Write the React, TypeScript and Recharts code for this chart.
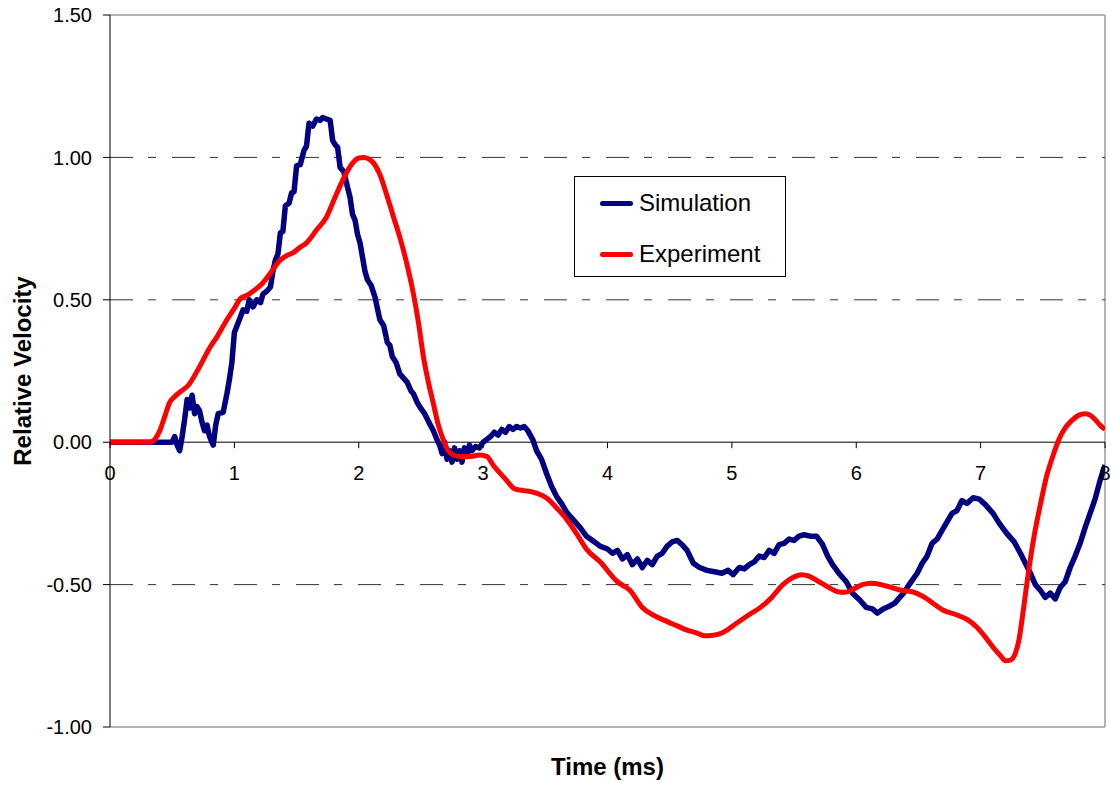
import React from 'react';
import { LineChart, Line, XAxis, YAxis, ReferenceLine, Legend } from 'recharts';

// ---- data ----
const seriesNames = ['Simulation', 'Experiment'];

const simTime = [
  0, 0.5, 0.52, 0.54, 0.56, 0.58, 0.6, 0.62, 0.64, 0.66, 0.68, 0.7, 0.72, 0.74, 0.76, 0.78, 0.8, 0.83,
  0.85, 0.87, 0.91, 0.94, 0.96, 0.98, 1.0, 1.04, 1.07, 1.1, 1.12, 1.15, 1.18, 1.21, 1.23, 1.26, 1.29,
  1.31, 1.33, 1.35, 1.37, 1.39, 1.41, 1.44, 1.46, 1.48, 1.5, 1.53, 1.56, 1.58, 1.6, 1.63, 1.66, 1.69,
  1.71, 1.74, 1.77, 1.79, 1.81, 1.83, 1.85, 1.88, 1.91, 1.93, 1.95, 1.97, 1.99, 2.01, 2.03, 2.05, 2.07,
  2.1, 2.13, 2.15, 2.17, 2.2, 2.23, 2.25, 2.27, 2.3, 2.33, 2.36, 2.39, 2.42, 2.44, 2.47, 2.49, 2.53,
  2.57, 2.6, 2.63, 2.65, 2.67, 2.69, 2.71, 2.73, 2.75, 2.77, 2.79, 2.81, 2.83, 2.85, 2.87, 2.89, 2.91,
  2.94, 2.97, 3.0, 3.03, 3.06, 3.09, 3.12, 3.15, 3.18, 3.21, 3.24, 3.27, 3.3, 3.33, 3.36, 3.4, 3.43,
  3.47, 3.51, 3.55, 3.59, 3.63, 3.67, 3.72, 3.78, 3.83, 3.88, 3.94, 4.0, 4.04, 4.08, 4.12, 4.16, 4.2,
  4.24, 4.28, 4.32, 4.36, 4.4, 4.44, 4.48, 4.52, 4.56, 4.6, 4.64, 4.69, 4.74, 4.8, 4.86, 4.92, 4.97,
  5.01, 5.06, 5.1, 5.14, 5.18, 5.22, 5.26, 5.3, 5.34, 5.38, 5.42, 5.46, 5.5, 5.54, 5.58, 5.63, 5.68,
  5.73, 5.77, 5.81, 5.86, 5.92, 5.97, 6.03, 6.08, 6.13, 6.17, 6.22, 6.27, 6.31, 6.35, 6.38, 6.41,
  6.45, 6.49, 6.53, 6.57, 6.61, 6.65, 6.69, 6.73, 6.77, 6.81, 6.85, 6.89, 6.94, 6.99, 7.04, 7.1, 7.15,
  7.21, 7.27, 7.32, 7.36, 7.4, 7.44, 7.48, 7.52, 7.56, 7.6, 7.64, 7.68, 7.72, 7.76, 7.8, 7.84, 7.88,
  7.92, 7.96, 8.0,
];
const simVel = [
  0, 0, 0.02, -0.01, -0.03, 0.02, 0.08, 0.15, 0.12, 0.165, 0.1, 0.125, 0.11, 0.07, 0.04, 0.06, 0.02, -0.01,
  0.06, 0.1, 0.105, 0.17, 0.22, 0.28, 0.385, 0.43, 0.465, 0.46, 0.5, 0.475, 0.5, 0.49, 0.52, 0.53, 0.545,
  0.6, 0.64, 0.66, 0.735, 0.74, 0.83, 0.84, 0.875, 0.88, 0.97, 0.975, 1.025, 1.04, 1.12, 1.11, 1.135, 1.13,
  1.14, 1.135, 1.13, 1.06, 1.045, 1.035, 0.965, 0.95, 0.895, 0.86, 0.8, 0.78, 0.73, 0.7, 0.65, 0.6, 0.57,
  0.55, 0.51, 0.47, 0.43, 0.41, 0.35, 0.34, 0.3, 0.28, 0.24, 0.225, 0.21, 0.18, 0.17, 0.14, 0.125, 0.1,
  0.065, 0.04, 0.008, -0.01, -0.04, 0.0, -0.06, -0.03, -0.07, -0.02, -0.06, -0.03, -0.07, -0.02, -0.05, -0.01,
  -0.03, -0.015, -0.02, 0.0, 0.01, 0.02, 0.035, 0.025, 0.045, 0.035, 0.055, 0.045, 0.055, 0.05, 0.055,
  0.04, 0.008, -0.03, -0.06, -0.11, -0.155, -0.19, -0.215, -0.245, -0.27, -0.3, -0.33, -0.345, -0.365,
  -0.375, -0.39, -0.38, -0.41, -0.395, -0.43, -0.41, -0.44, -0.415, -0.43, -0.4, -0.39, -0.365, -0.35,
  -0.345, -0.36, -0.38, -0.425, -0.44, -0.45, -0.455, -0.46, -0.45, -0.465, -0.44, -0.445, -0.43, -0.42,
  -0.4, -0.405, -0.38, -0.39, -0.36, -0.355, -0.34, -0.345, -0.33, -0.325, -0.33, -0.33, -0.36, -0.4,
  -0.43, -0.46, -0.49, -0.53, -0.555, -0.58, -0.585, -0.6, -0.585, -0.575, -0.565, -0.545, -0.53, -0.51,
  -0.485, -0.46, -0.425, -0.4, -0.355, -0.34, -0.31, -0.28, -0.25, -0.24, -0.205, -0.215, -0.195, -0.2,
  -0.22, -0.25, -0.285, -0.32, -0.35, -0.39, -0.425, -0.46, -0.5, -0.52, -0.545, -0.53, -0.55, -0.51,
  -0.49, -0.44, -0.4, -0.355, -0.3, -0.25, -0.2, -0.135, -0.08, 0.03, 0.055,
];

const expTime = [
  0, 0.32, 0.36, 0.4, 0.44, 0.48, 0.52, 0.56, 0.63, 0.72, 0.8, 0.86, 0.94, 1.0, 1.05, 1.1, 1.15, 1.23,
  1.3, 1.37, 1.42, 1.47, 1.53, 1.58, 1.66, 1.74, 1.8, 1.85, 1.9, 1.95, 2.0, 2.04, 2.08, 2.12, 2.17,
  2.22, 2.28, 2.33, 2.39, 2.44, 2.48, 2.52, 2.56, 2.6, 2.64, 2.68, 2.72, 2.76, 2.82, 2.9, 2.97, 3.03,
  3.08, 3.17, 3.26, 3.33, 3.4, 3.51, 3.6, 3.67, 3.75, 3.83, 3.94, 4.08, 4.18, 4.28, 4.38, 4.48, 4.56,
  4.64, 4.72, 4.78, 4.85, 4.92, 5.04, 5.14, 5.23, 5.32, 5.41, 5.49, 5.56, 5.62, 5.7, 5.78, 5.85, 5.91,
  5.98, 6.05, 6.12, 6.2, 6.28, 6.36, 6.45, 6.55, 6.63, 6.7, 6.8, 6.9, 6.97, 7.03, 7.1, 7.16, 7.2, 7.24,
  7.28, 7.31, 7.34, 7.38, 7.43, 7.48, 7.53, 7.58, 7.63, 7.68, 7.73, 7.79, 7.84, 7.88, 7.92, 7.96, 8.0,
];
const expVel = [
  0, 0, 0.01, 0.04, 0.09, 0.14, 0.16, 0.175, 0.2, 0.265, 0.33, 0.37, 0.43, 0.47, 0.505, 0.515, 0.53, 0.56,
  0.6, 0.64, 0.655, 0.665, 0.685, 0.7, 0.745, 0.79, 0.85, 0.9, 0.945, 0.98, 0.998, 1.0, 0.995, 0.98, 0.94,
  0.875, 0.79, 0.72, 0.62, 0.52, 0.42, 0.3, 0.21, 0.135, 0.06, 0.008, -0.03, -0.045, -0.05, -0.05, -0.045, -0.05,
  -0.08, -0.125, -0.165, -0.17, -0.175, -0.196, -0.235, -0.27, -0.32, -0.375, -0.42, -0.49, -0.52, -0.58, -0.61, -0.63, -0.645,
  -0.66, -0.67, -0.68, -0.678, -0.67, -0.635, -0.605, -0.58, -0.545, -0.5, -0.475, -0.465, -0.47, -0.49, -0.51, -0.525, -0.527,
  -0.515, -0.5, -0.495, -0.5, -0.51, -0.52, -0.525, -0.545, -0.57, -0.59, -0.605, -0.625, -0.65, -0.68, -0.72, -0.75, -0.767, -0.765,
  -0.74, -0.69, -0.6, -0.47, -0.33, -0.22, -0.12, -0.05, 0.01, 0.05, 0.075, 0.095, 0.1, 0.095, 0.08, 0.06, 0.045,
];

const xTicks = [0, 1, 2, 3, 4, 5, 6, 7, 8];
const yTicks = [-1, -0.5, 0, 0.5, 1, 1.5];
const gridLevels = [1, 0.5, -0.5];

const simData = simTime.map((t, i) => ({ t, v: simVel[i] }));
const expData = expTime.map((t, i) => ({ t, v: expVel[i] }));

// ---- layout ----
const W = 1111;
const H = 786;
const MARGIN = { top: 15, right: 6, bottom: 29, left: 50 };
const Y_AXIS_W = 60;
const X_AXIS_H = 30;
const Y_MIN = -1;
const Y_MAX = 1.5;
const PLOT_H = H - MARGIN.top - MARGIN.bottom - X_AXIS_H;
const ZERO_SHIFT = (PLOT_H * (0 - Y_MIN)) / (Y_MAX - Y_MIN);
const FONT = '"Liberation Sans", Arial, Helvetica, sans-serif';

const XTick = (props: any) => {
  const { x, y, payload } = props;
  const y0 = y - ZERO_SHIFT;
  return (
    <g>
      <line x1={x} x2={x} y1={y0} y2={y0 + 6} stroke="#000" strokeWidth={1} />
      <text x={x} y={y0 + 38} textAnchor="middle" fontSize={20} fontFamily={FONT} fill="#000">
        {payload.value}
      </text>
    </g>
  );
};

const LegendBox = (props: any) => {
  const items = [...(props.payload || [])].sort(
    (a: any, b: any) => seriesNames.indexOf(a.value) - seriesNames.indexOf(b.value)
  );
  return (
    <div
      style={{
        width: 212,
        height: 101,
        boxSizing: 'border-box',
        border: '1px solid #000',
        background: '#fff',
        position: 'relative',
        fontFamily: FONT,
        fontSize: 24,
        color: '#000',
      }}
    >
      {items.map((p: any, i: number) => (
        <div
          key={p.value}
          style={{
            position: 'absolute',
            left: 25,
            top: 26 + i * 51 - 14,
            height: 28,
            display: 'flex',
            alignItems: 'center',
            whiteSpace: 'nowrap',
          }}
        >
          <span
            style={{
              display: 'inline-block',
              width: 33,
              height: 5,
              borderRadius: 2.5,
              background: p.color,
              marginRight: 6,
            }}
          />
          <span>{p.value}</span>
        </div>
      ))}
    </div>
  );
};

export default function App() {
  return (
    <div style={{ position: 'absolute', left: 0, top: 0, background: '#fff' }}>
      <LineChart width={W} height={H} margin={MARGIN}>
        <XAxis
          type="number"
          dataKey="t"
          domain={[0, 8]}
          ticks={xTicks}
          interval={0}
          allowDataOverflow
          height={X_AXIS_H}
          axisLine={false}
          tickLine={false}
          tickSize={0}
          tickMargin={0}
          tick={<XTick />}
          label={{
            content: (lp: any) => {
              const vb = lp.viewBox || {};
              return (
                <text
                  x={vb.x + vb.width / 2}
                  y={vb.y + 48}
                  textAnchor="middle"
                  fontSize={24}
                  fontWeight="bold"
                  fontFamily={FONT}
                  fill="#000"
                >
                  Time (ms)
                </text>
              );
            },
          }}
        />
        <YAxis
          type="number"
          domain={[Y_MIN, Y_MAX]}
          ticks={yTicks}
          interval={0}
          width={Y_AXIS_W}
          allowDataOverflow
          tickFormatter={(v: number) => v.toFixed(2)}
          axisLine={{ stroke: '#000', strokeWidth: 1 }}
          tickLine={{ stroke: '#000', strokeWidth: 1 }}
          tickSize={7}
          tickMargin={11}
          tick={{ fontSize: 20, fontFamily: FONT, fill: '#000' }}
          label={{
            content: (lp: any) => {
              const vb = lp.viewBox || {};
              const cx = vb.x - 28;
              const cy = vb.y + vb.height / 2;
              return (
                <text
                  x={cx}
                  y={cy}
                  transform={`rotate(-90 ${cx} ${cy})`}
                  textAnchor="middle"
                  dominantBaseline="central"
                  fontSize={24}
                  fontWeight="bold"
                  fontFamily={FONT}
                  fill="#000"
                >
                  Relative Velocity
                </text>
              );
            },
          }}
        />
        <ReferenceLine y={Y_MAX} stroke="#9a9a9a" strokeWidth={1.5} />
        <ReferenceLine y={Y_MIN} stroke="#9a9a9a" strokeWidth={1.5} />
        <ReferenceLine x={8} stroke="#9a9a9a" strokeWidth={1.5} />
        {gridLevels.map((g) => (
          <ReferenceLine key={g} y={g} stroke="#333" strokeWidth={1} strokeDasharray="23 15 8 16" />
        ))}
        <ReferenceLine y={0} stroke="#000" strokeWidth={1} />
        <Line
          data={simData}
          dataKey="v"
          name={seriesNames[0]}
          type="linear"
          stroke="#000080"
          strokeWidth={5.5}
          dot={false}
          activeDot={false}
          isAnimationActive={false}
          strokeLinejoin="round"
        />
        <Line
          data={expData}
          dataKey="v"
          name={seriesNames[1]}
          type="monotone"
          stroke="#FF0000"
          strokeWidth={5}
          dot={false}
          activeDot={false}
          isAnimationActive={false}
        />
        <Legend
          layout="horizontal"
          verticalAlign="middle"
          align="center"
          content={<LegendBox />}
          wrapperStyle={{ position: 'absolute', left: 574, top: 176, width: 212, height: 101 }}
        />
      </LineChart>
    </div>
  );
}
